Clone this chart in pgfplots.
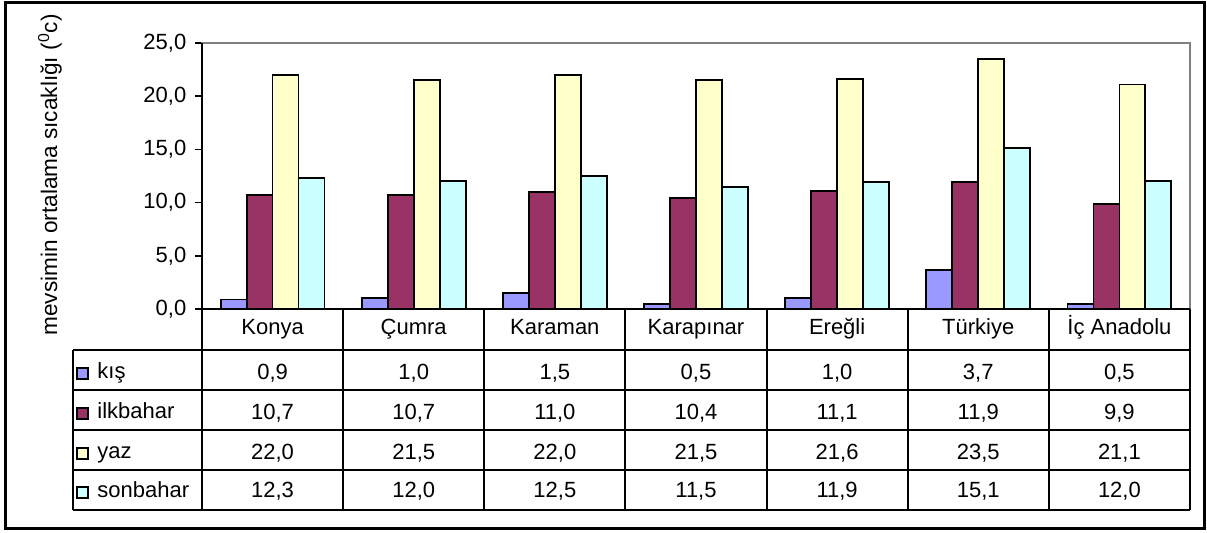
\documentclass[border=0pt]{standalone}
\usepackage{pgfplots}
\pgfplotsset{compat=1.18}
\usepackage{pgfplotstable}
\usepackage{fontspec}
\setmainfont{Liberation Sans}
\definecolor{kis}{HTML}{9999FF}
\definecolor{ilk}{HTML}{993366}
\definecolor{yaz}{HTML}{FFFFCC}
\definecolor{son}{HTML}{CCFFFF}
\definecolor{frgray}{HTML}{808080}
\newcommand{\fs}{\fontsize{11}{13.2}\selectfont}
\pgfplotstableread{
x name kis ilk yaz son
0 Konya 0.9 10.7 22.0 12.3
1 Çumra 1.0 10.7 21.5 12.0
2 Karaman 1.5 11.0 22.0 12.5
3 Karapınar 0.5 10.4 21.5 11.5
4 Ereğli 1.0 11.1 21.6 11.9
5 Türkiye 3.7 11.9 23.5 15.1
6 {İç Anadolu} 0.5 9.9 21.1 12.0
}\data
\begin{document}
\fs
\begin{tikzpicture}
\begin{scope}[x=0.5pt,y=-0.5pt]
\useasboundingbox (0,0) rectangle (1207,533);
\end{scope}
\begin{axis}[
  at={(101pt,-154.5pt)}, anchor=south west,
  scale only axis, width=494pt, height=133pt,
  xmin=-0.5, xmax=6.5, ymin=0, ymax=25,
  xtick=\empty,
  ytick={0,5,10,15,20,25},
  ytick pos=left,
  tick align=outside,
  major tick length=3.5pt,
  ytick style={draw=black, line width=0.8pt},
  axis line style={draw=frgray, line width=0.9pt},
  clip=false,
  /pgf/number format/assume math mode=true,
  yticklabel style={font=\fs, xshift=-0.5pt},
  yticklabel={\pgfmathprintnumber[fixed,fixed zerofill,precision=1,use comma]{\tick}},
  every node near coord/.append style={anchor=base, inner sep=0pt, font=\fs, text=black},
]
\addplot[ybar, bar width=0.184, bar shift=-0.276, fill=kis, draw=black, line width=0.9pt] table[x=x,y=kis]{\data};
\addplot[ybar, bar width=0.184, bar shift=-0.092, fill=ilk, draw=black, line width=0.9pt] table[x=x,y=ilk]{\data};
\addplot[ybar, bar width=0.184, bar shift=0.092, fill=yaz, draw=black, line width=0.9pt] table[x=x,y=yaz]{\data};
\addplot[ybar, bar width=0.184, bar shift=0.276, fill=son, draw=black, line width=0.9pt] table[x=x,y=son]{\data};
% table texts
\addplot[draw=none, mark=none, point meta=explicit symbolic, nodes near coords={\pgfplotspointmeta}] table[x=x, y expr=-2.44, meta=name]{\data};
\addplot[draw=none, mark=none, point meta=explicit, nodes near coords={\pgfmathprintnumber[fixed,fixed zerofill,precision=1,use comma]{\pgfplotspointmeta}}] table[x=x, y expr=-6.58, meta=kis]{\data};
\addplot[draw=none, mark=none, point meta=explicit, nodes near coords={\pgfmathprintnumber[fixed,fixed zerofill,precision=1,use comma]{\pgfplotspointmeta}}] table[x=x, y expr=-10.34, meta=ilk]{\data};
\addplot[draw=none, mark=none, point meta=explicit, nodes near coords={\pgfmathprintnumber[fixed,fixed zerofill,precision=1,use comma]{\pgfplotspointmeta}}] table[x=x, y expr=-14.10, meta=yaz]{\data};
\addplot[draw=none, mark=none, point meta=explicit, nodes near coords={\pgfmathprintnumber[fixed,fixed zerofill,precision=1,use comma]{\pgfplotspointmeta}}] table[x=x, y expr=-17.76, meta=son]{\data};
\end{axis}
\begin{scope}[x=0.5pt,y=-0.5pt]
% outer frame
\draw[black, line width=1.5pt] (5,3) rectangle (1204,529);
% table lines
\draw[black, line width=1pt] (202,43) -- (202,510);
\draw[black, line width=1pt] (202,309) -- (1190,309);
\foreach \yy in {350,390,430,470,510} \draw[black, line width=1pt] (73,\yy) -- (1190,\yy);
\draw[black, line width=1pt] (73,350) -- (73,510);
\foreach \k in {1,...,7} \draw[black, line width=1pt] ({202+141.14*\k},309) -- ({202+141.14*\k},510);
% legend keys
\foreach \yy/\c/\t in {379/kis/kış, 419/ilk/ilkbahar, 459/yaz/yaz, 498/son/sonbahar} {
  \draw[black, line width=0.8pt, fill=\c] (77,{\yy-11}) rectangle (88,\yy);
  \node[anchor=base west, inner sep=0pt, font=\fs] at (97,\yy) {\t};
}
% y label
\node[rotate=90, anchor=base, inner sep=0pt, font=\fontsize{11.3}{13.5}\selectfont] at (57,175) {mevsimin ortalama sıcaklığı (\textsuperscript{0}c)};
\end{scope}
\end{tikzpicture}
\end{document}
